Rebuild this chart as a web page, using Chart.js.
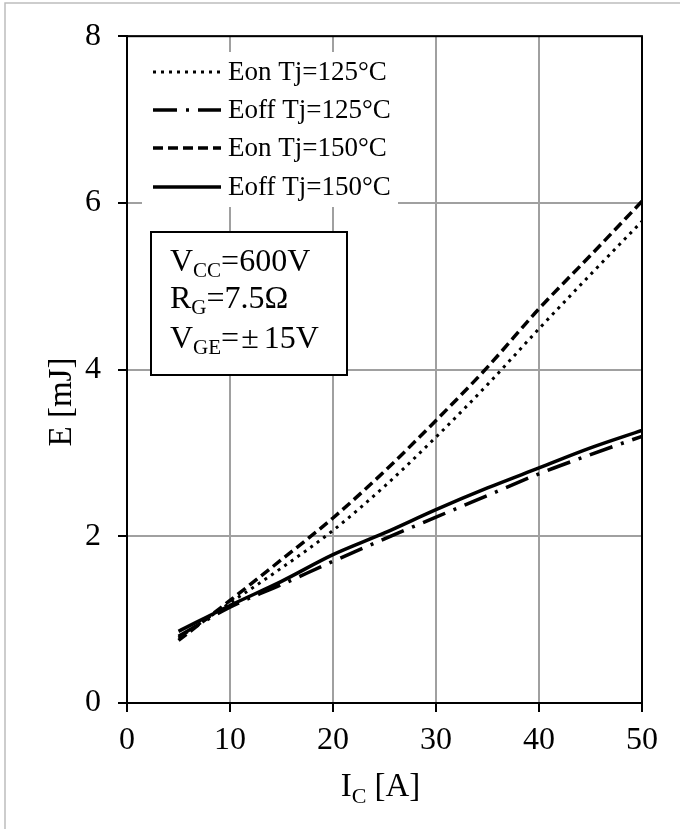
<!DOCTYPE html>
<html>
<head>
<meta charset="utf-8">
<script src="https://cdn.jsdelivr.net/npm/chart.js@4.4.0/dist/chart.umd.min.js"></script>
<style>
  html, body { margin: 0; padding: 0; background: #fff; }
  #wrap { width: 680px; height: 829px; }
</style>
</head>
<body>
<div id="wrap"><canvas id="lossChart" width="680" height="829"></canvas></div>
<script>
// Switching loss vs collector current
const currents = [5, 10, 15, 20, 25, 30, 35, 40, 45, 50];
const eon125  = [0.78, 1.20, 1.62, 2.07, 2.60, 3.19, 3.82, 4.49, 5.14, 5.78];
const eoff125 = [0.80, 1.15, 1.42, 1.70, 1.97, 2.23, 2.49, 2.75, 2.98, 3.20];
const eon150  = [0.75, 1.23, 1.72, 2.22, 2.78, 3.39, 4.03, 4.73, 5.37, 6.02];
const eoff150 = [0.86, 1.17, 1.46, 1.78, 2.04, 2.32, 2.58, 2.82, 3.06, 3.27];
const seriesLabels = ['Eon Tj=125°C', 'Eoff Tj=125°C', 'Eon Tj=150°C', 'Eoff Tj=150°C'];
const xTicks = [0, 10, 20, 30, 40, 50];
const yTicks = [0, 2, 4, 6, 8];

const SERIF = "'Liberation Serif', 'Times New Roman', serif";

function toPoints(values) {
    return currents.map((c, i) => ({ x: c, y: values[i] }));
}

// draws text made of [text, isSubscript, extraGapAfter] parts
function drawParts(ctx, parts, x, y, size) {
    let cx = x;
    parts.forEach(([txt, sub, gap]) => {
        ctx.font = (sub ? Math.round(size * 0.66) : size) + 'px ' + SERIF;
        ctx.fillText(txt, cx, sub ? y + size * 0.2 : y);
        cx += ctx.measureText(txt).width + (gap || 0);
    });
    return cx - x;
}

function measureParts(ctx, parts, size) {
    let w = 0;
    parts.forEach(([txt, sub, gap]) => {
        ctx.font = (sub ? Math.round(size * 0.66) : size) + 'px ' + SERIF;
        w += ctx.measureText(txt).width + (gap || 0);
    });
    return w;
}

const noteLines = [
    [['V', false], ['CC', true], ['=600V', false]],
    [['R', false], ['G', true], ['=7.5Ω', false]],
    [['V', false], ['GE', true], ['=', false, 2], ['±', false, 5], ['15V', false]]
];

const overlayPlugin = {
    id: 'overlay',
    beforeDraw(chart) {
        const ctx = chart.ctx;
        ctx.save();
        ctx.fillStyle = '#fff';
        ctx.fillRect(0, 0, chart.width, chart.height);
        // outer frame (only left/top edges are visible)
        ctx.strokeStyle = '#bdbdbd';
        ctx.lineWidth = 1.5;
        ctx.beginPath();
        ctx.moveTo(5, chart.height);
        ctx.lineTo(5, 3);
        ctx.lineTo(chart.width, 3);
        ctx.stroke();
        ctx.restore();
    },
    afterDatasetsDraw(chart) {
        const ctx = chart.ctx;
        const area = chart.chartArea;
        ctx.save();

        // plot frame
        ctx.strokeStyle = '#000';
        ctx.lineWidth = 2;
        ctx.strokeRect(area.left, area.top, area.right - area.left, area.bottom - area.top);

        // legend
        ctx.fillStyle = '#fff';
        ctx.fillRect(142, 52, 256, 155);
        const rows = [72, 110, 148, 187];
        chart.data.datasets.forEach((ds, i) => {
            ctx.strokeStyle = ds.borderColor;
            ctx.lineWidth = ds.borderWidth;
            ctx.lineCap = 'butt';
            ctx.setLineDash(ds.borderDash || []);
            ctx.beginPath();
            ctx.moveTo(153, rows[i]);
            ctx.lineTo(221, rows[i]);
            ctx.stroke();
            ctx.setLineDash([]);
            ctx.fillStyle = '#000';
            ctx.font = '27px ' + SERIF;
            ctx.textBaseline = 'alphabetic';
            ctx.textAlign = 'left';
            ctx.fillText(ds.label, 228, rows[i] + 8);
        });

        // conditions box
        ctx.fillStyle = '#fff';
        ctx.fillRect(151, 232, 196, 143);
        ctx.strokeStyle = '#000';
        ctx.lineWidth = 2;
        ctx.strokeRect(151, 232, 196, 143);
        ctx.fillStyle = '#000';
        ctx.textAlign = 'left';
        ctx.textBaseline = 'alphabetic';
        const baselines = [271, 308, 348];
        noteLines.forEach((parts, i) => drawParts(ctx, parts, 170, baselines[i], 32));

        // x axis title
        const xParts = [['I', false], ['C', true], [' [A]', false]];
        const xw = measureParts(ctx, xParts, 33);
        drawParts(ctx, xParts, (area.left + area.right) / 2 - 4 - xw / 2, 796, 33);

        // y axis title
        ctx.translate(71, 402);
        ctx.rotate(-Math.PI / 2);
        ctx.font = '33px ' + SERIF;
        ctx.textAlign = 'center';
        ctx.fillText('E [mJ]', 0, 0);

        ctx.restore();
    }
};

const ctx = document.getElementById('lossChart').getContext('2d');

new Chart(ctx, {
    type: 'line',
    data: {
        datasets: [
            {
                label: seriesLabels[0],
                data: toPoints(eon125),
                borderColor: '#000',
                borderWidth: 3,
                borderDash: [3, 5]
            },
            {
                label: seriesLabels[1],
                data: toPoints(eoff125),
                borderColor: '#000',
                borderWidth: 3.5,
                borderDash: [24, 9, 3, 9]
            },
            {
                label: seriesLabels[2],
                data: toPoints(eon150),
                borderColor: '#000',
                borderWidth: 3.5,
                borderDash: [10, 5]
            },
            {
                label: seriesLabels[3],
                data: toPoints(eoff150),
                borderColor: '#000',
                borderWidth: 3.5
            }
        ]
    },
    options: {
        responsive: false,
        animation: false,
        devicePixelRatio: 1,
        layout: { padding: { top: 33, right: 38, left: 0, bottom: 0 } },
        elements: {
            point: { radius: 0 },
            line: { tension: 0.3, cubicInterpolationMode: 'monotone', fill: false }
        },
        plugins: {
            legend: { display: false },
            tooltip: { enabled: false },
            title: { display: false }
        },
        scales: {
            x: {
                type: 'linear',
                min: xTicks[0],
                max: xTicks[xTicks.length - 1],
                afterBuildTicks: s => { s.ticks = xTicks.map(v => ({ value: v })); },
                afterFit: s => { s.height = 126; },
                grid: {
                    color: '#a0a0a0',
                    lineWidth: 2,
                    tickColor: '#000',
                    tickWidth: 2,
                    tickLength: 9
                },
                border: { display: true, color: '#000', width: 2 },
                ticks: {
                    color: '#000',
                    padding: 9,
                    maxRotation: 0,
                    font: { family: SERIF, size: 32 }
                }
            },
            y: {
                type: 'linear',
                min: yTicks[0],
                max: yTicks[yTicks.length - 1],
                afterBuildTicks: s => { s.ticks = yTicks.map(v => ({ value: v })); },
                afterFit: s => { s.width = 127; },
                grid: {
                    color: '#a0a0a0',
                    lineWidth: 2,
                    tickColor: '#000',
                    tickWidth: 2,
                    tickLength: 9
                },
                border: { display: true, color: '#000', width: 2 },
                ticks: {
                    color: '#000',
                    padding: 17,
                    font: { family: SERIF, size: 32 }
                }
            }
        }
    },
    plugins: [overlayPlugin]
});
</script>
</body>
</html>
